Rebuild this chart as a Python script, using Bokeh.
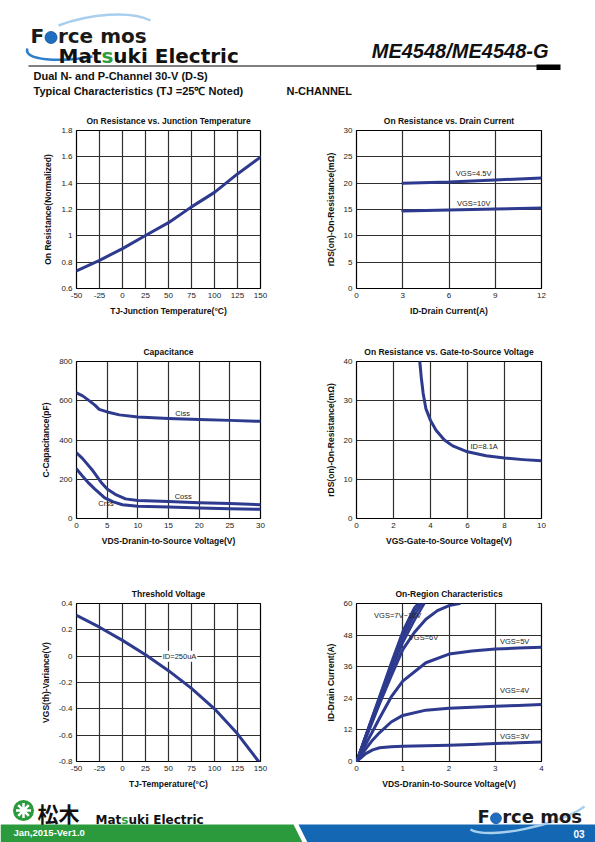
from bokeh.plotting import figure
from bokeh.models import Range1d, FixedTicker, CustomJSTickFormatter, ColumnDataSource
from bokeh.layouts import column, row
from bokeh.core.properties import value
from bokeh.embed import file_html
from bokeh.resources import INLINE

FONT = "Liberation Sans"
LOGO = "DejaVu Sans"
LINE = "#2e3a8e"
GRID = "#2f2f2f"

# ---------------- data ----------------
# 1 On Resistance vs. Junction Temperature
tj_ron = [-50, -25, 0, 25, 50, 75, 100, 125, 150]
ron_norm = [0.734, 0.814, 0.903, 1.003, 1.10, 1.22, 1.33, 1.47, 1.598]

# 2 On Resistance vs. Drain Current
id_drain = [3, 6, 9, 12]
rds_vgs45 = [20.0, 20.2, 20.6, 21.0]
rds_vgs10 = [14.7, 14.9, 15.1, 15.3]
labels2 = ["VGS=4.5V", "VGS=10V"]
labels2_x = [7.6, 7.6]
labels2_y = [21.9, 16.2]

# 3 Capacitance
vds_ciss = [0, 1, 2, 3, 3.7, 5, 7, 10, 15, 20, 25, 30]
ciss = [640, 625, 602, 578, 556, 543, 528, 517, 510, 505, 500, 495]
vds_coss = [0, 1, 2.5, 4, 5, 6.5, 8, 10, 15, 20, 25, 30]
coss = [335, 305, 250, 185, 150, 120, 100, 92, 86, 80, 76, 70]
vds_crss = [0, 1, 2, 3, 4.6, 6, 7.5, 10, 15, 20, 25, 30]
crss = [252, 215, 180, 150, 105, 85, 70, 63, 58, 54, 50, 47]
labels3 = ["Ciss", "Coss", "Crss"]
labels3_x = [17.3, 17.4, 4.8]
labels3_y = [535, 114, 75]

# 4 On Resistance vs. Gate-to-Source Voltage
vgs = [3.42, 3.5, 3.6, 3.75, 4.0, 4.3, 4.75, 5.2, 6.0, 7.0, 8.0, 9.0, 10.0]
rds_vgs = [40, 36, 32, 28, 25, 22.5, 20, 18.5, 17, 16, 15.4, 15.0, 14.7]
labels4 = ["ID=8.1A"]
labels4_x = [6.9]
labels4_y = [18.3]

# 5 Threshold Voltage
tj_vth = [-50, -25, 0, 25, 50, 75, 100, 125, 148]
vth_var = [0.31, 0.22, 0.12, 0.01, -0.11, -0.245, -0.40, -0.59, -0.80]
labels5 = ["ID=250uA"]
labels5_x = [62]
labels5_y = [0]

# 6 On-Region Characteristics
vds_on = [0, 0.1, 0.2, 0.35, 0.5, 0.75, 1.0, 1.5, 2.0, 2.5, 3.0, 3.5, 4.0]
id_3v = [0, 1.5, 3.0, 4.4, 5.2, 5.6, 5.8, 6.0, 6.2, 6.5, 6.8, 7.1, 7.4]
id_4v = [0, 2.4, 4.8, 8.2, 11.0, 15.0, 17.5, 19.5, 20.2, 20.6, 21.0, 21.3, 21.6]
id_5v = [0, 3.3, 6.6, 11.5, 16.5, 24.5, 30.5, 37.5, 40.8, 42.0, 42.7, 43.1, 43.4]
vds_6v = [0, 0.25, 0.5, 0.75, 1.0, 1.25, 1.5, 1.75, 2.0, 2.23]
id_6v = [0, 11, 22, 32.5, 42.5, 49, 54, 57.3, 59.2, 60]
vds_7v = [0, 0.25, 0.5, 0.75, 1.0, 1.25, 1.47]
id_7v = [0, 12.0, 23.5, 34.5, 45.0, 53.5, 60]
vds_8v = [0, 0.25, 0.5, 0.75, 1.0, 1.25, 1.42]
id_8v = [0, 12.2, 24.0, 35.5, 46.5, 55.5, 60]
vds_9v = [0, 0.25, 0.5, 0.75, 1.0, 1.25, 1.37]
id_9v = [0, 12.4, 24.5, 36.5, 48.0, 57.0, 60]
vds_10v = [0, 0.25, 0.5, 0.75, 1.0, 1.25, 1.33]
id_10v = [0, 12.6, 25.0, 37.5, 49.5, 58.5, 60]
labels6 = ["VGS=7V~10V", "VGS=6V", "VGS=5V", "VGS=4V", "VGS=3V"]
labels6_x = [0.89, 1.45, 3.42, 3.42, 3.42]
labels6_y = [55.6, 47.0, 45.6, 26.8, 9.6]

# ticks
ticks_temp = [-50, -25, 0, 25, 50, 75, 100, 125, 150]
ticks_ron = [0.6, 0.8, 1.0, 1.2, 1.4, 1.6, 1.8]
ticks_id = [0, 3, 6, 9, 12]
ticks_rds30 = [0, 5, 10, 15, 20, 25, 30]
ticks_vds30 = [0, 5, 10, 15, 20, 25, 30]
ticks_cap = [0, 200, 400, 600, 800]
ticks_vgs = [0, 2, 4, 6, 8, 10]
ticks_rds40 = [0, 10, 20, 30, 40]
ticks_vth = [-0.8, -0.6, -0.4, -0.2, 0, 0.2, 0.4]
ticks_vds4 = [0, 1, 2, 3, 4]
ticks_id60 = [0, 12, 24, 36, 48, 60]

FMT = "return tick.toString()"


def chart(title, xr, yr, xt, yt, xl, yl, left, right, top, bottom, fw, fh):
    p = figure(frame_width=fw, frame_height=fh,
               x_range=Range1d(*xr), y_range=Range1d(*yr),
               min_border_left=left, min_border_right=right,
               min_border_top=top, min_border_bottom=bottom,
               output_backend="svg", toolbar_location=None, title=title)
    p.title.align = "center"
    p.title.text_font = FONT
    p.title.text_font_size = "8.5px"
    p.title.text_font_style = "bold"
    p.title.text_color = "#111111"
    p.title.standoff = 9
    p.outline_line_color = "black"
    p.outline_line_width = 1.2
    p.outline_line_alpha = 1
    p.xaxis.ticker = FixedTicker(ticks=xt)
    p.yaxis.ticker = FixedTicker(ticks=yt)
    p.xaxis.formatter = CustomJSTickFormatter(code=FMT)
    p.yaxis.formatter = CustomJSTickFormatter(code=FMT)
    p.xaxis.axis_label = xl
    p.yaxis.axis_label = yl
    p.axis.axis_line_color = None
    p.axis.major_tick_line_color = None
    p.axis.minor_tick_line_color = None
    p.axis.major_tick_out = 0
    p.axis.major_tick_in = 0
    p.axis.major_label_text_font = FONT
    p.axis.major_label_text_font_size = "8px"
    p.axis.major_label_text_color = "#222222"
    p.axis.major_label_standoff = 4
    p.axis.axis_label_text_font = FONT
    p.axis.axis_label_text_font_size = "8.5px"
    p.axis.axis_label_text_font_style = "bold"
    p.axis.axis_label_text_color = "#111111"
    p.axis.axis_label_standoff = 5
    p.grid.grid_line_color = GRID
    p.grid.grid_line_width = 1.2
    p.background_fill_color = "white"
    p.border_fill_color = "white"
    return p


def curve(p, x, y, w=3):
    p.line(x, y, line_color=LINE, line_width=w, line_cap="round", line_join="round")


def labels(p, xs, ys, txt, bg=None):
    src = ColumnDataSource(dict(x=xs, y=ys, t=txt))
    kw = {}
    if bg:
        kw = dict(background_fill_color=bg, padding=1)
    p.text("x", "y", "t", source=src, text_font=value(FONT), text_font_size="7.5px",
           text_color="#222222", text_align="center", text_baseline="middle", **kw)


# geometry (px) -- layout starts at the page's top-left corner
LW, RW = 184, 185
L_LEFT, L_RIGHT = 76, 30
R_LEFT, R_RIGHT = 66, 54

# Row 1
p1 = chart("On Resistance vs. Junction Temperature", (-50, 150), (0.6, 1.8), ticks_temp, ticks_ron,
           "TJ-Junction Temperature(°C)", "On Resistance(Normalized)",
           L_LEFT, L_RIGHT, 25, 52, LW, 158)
curve(p1, tj_ron, ron_norm)

p2 = chart("On Resistance vs. Drain Current", (0, 12), (0, 30), ticks_id, ticks_rds30,
           "ID-Drain Current(A)", "rDS(on)-On-Resistance(mΩ)",
           R_LEFT, R_RIGHT, 25, 52, RW, 158)
curve(p2, id_drain, rds_vgs45)
curve(p2, id_drain, rds_vgs10)
labels(p2, labels2_x, labels2_y, labels2)

# Row 2
p3 = chart("Capacitance", (0, 30), (0, 800), ticks_vds30, ticks_cap,
           "VDS-Dranin-to-Source Voltage(V)", "C-Capacitance(pF)",
           L_LEFT, L_RIGHT, 21, 62, LW, 157)
curve(p3, vds_ciss, ciss)
curve(p3, vds_coss, coss)
curve(p3, vds_crss, crss)
labels(p3, labels3_x, labels3_y, labels3)

p4 = chart("On Resistance vs. Gate-to-Source Voltage", (0, 10), (0, 40), ticks_vgs, ticks_rds40,
           "VGS-Gate-to-Source Voltage(V)", "rDS(on)-On-Resistance(mΩ)",
           R_LEFT, R_RIGHT, 21, 62, RW, 157)
curve(p4, vgs, rds_vgs)
labels(p4, labels4_x, labels4_y, labels4)

# Row 3
p5 = chart("Threshold Voltage", (-50, 150), (-0.8, 0.4), ticks_temp, ticks_vth,
           "TJ-Temperature(°C)", "VGS(th)-Variance(V)",
           L_LEFT, L_RIGHT, 23, 33, LW, 158)
curve(p5, tj_vth, vth_var)
labels(p5, labels5_x, labels5_y, labels5, bg="white")

p6 = chart("On-Region Characteristics", (0, 4), (0, 60), ticks_vds4, ticks_id60,
           "VDS-Dranin-to-Source Voltage(V)", "ID-Drain Current(A)",
           R_LEFT, R_RIGHT, 23, 33, RW, 158)
curve(p6, vds_on, id_3v)
curve(p6, vds_on, id_4v)
curve(p6, vds_on, id_5v)
curve(p6, vds_6v, id_6v)
curve(p6, vds_7v, id_7v, 2.4)
curve(p6, vds_8v, id_8v, 2.4)
curve(p6, vds_9v, id_9v, 2.4)
curve(p6, vds_10v, id_10v, 2.4)
labels(p6, labels6_x, labels6_y, labels6)


def canvas(y0, y1):
    p = figure(width=595, height=y1 - y0, x_range=Range1d(0, 595), y_range=Range1d(y1, y0),
               min_border=0, output_backend="svg", toolbar_location=None)
    p.axis.visible = False
    p.grid.visible = False
    p.outline_line_color = None
    p.background_fill_color = "white"
    p.border_fill_color = "white"
    return p


def txt(p, x, y, s, size, color="#111111", font=FONT, style="bold", align="left"):
    # y is the vertical centre of the text line
    p.text(x=[x], y=[y], text=[s], text_font=value(font), text_font_size=f"{size}px",
           text_font_style=style, text_color=color, text_align=align, text_baseline="middle")


def logo(p, x, yc, size):
    f_w = 0.683 * size
    o_w = 0.687 * size
    txt(p, x, yc, "F", size, color="#1a1a1a", font=LOGO)
    p.circle(x=[x + f_w + o_w / 2], y=[yc + 0.1 * size], radius=[0.3 * size],
             fill_color="#1f6fc0", line_color="#0d4f99", line_width=0.8)
    txt(p, x + f_w + o_w, yc, "rce mos", size, color="#1a1a1a", font=LOGO)


# Header
hdr = canvas(0, 105)
hdr.bezier(x0=[27], y0=[48], x1=[92], y1=[56], cx0=[22], cy0=[60], cx1=[60], cy1=[62],
           line_color="#2f7fc8", line_width=2.5)
hdr.bezier(x0=[58], y0=[25], x1=[150], y1=[20], cx0=[90], cy0=[13], cx1=[130], cy1=[10],
           line_color="#a9cfee", line_width=2.5)
logo(hdr, 30, 35, 20)
mat_w = (0.995 + 0.675 + 0.478) * 20
s_w = 0.595 * 20
txt(hdr, 58, 55, "Mat", 20, font=LOGO)
txt(hdr, 58 + mat_w, 55, "s", 20, color="#2e9e3e", font=LOGO)
txt(hdr, 58 + mat_w + s_w, 55, "uki Electric", 20, font=LOGO)
txt(hdr, 548, 50, "ME4548/ME4548-G", 20, style="bold italic", align="right")
hdr.segment(x0=[28], y0=[65.5], x1=[548], y1=[65.5], line_color="black", line_width=1)
hdr.quad(left=[536], right=[560], top=[64], bottom=[69.5], fill_color="black", line_color=None)
txt(hdr, 33, 75, "Dual N- and P-Channel 30-V (D-S)", 11)
txt(hdr, 33, 90, "Typical Characteristics (TJ =25℃ Noted)", 11)
txt(hdr, 286, 90, "N-CHANNEL", 11)

# Footer
ftr = canvas(794, 842)
ftr.patch(x=[0, 293, 302, 0], y=[824, 824, 842, 842], fill_color="#2a9a3c", line_color=None)
ftr.patch(x=[298, 595, 595, 307], y=[824, 824, 842, 842], fill_color="#1467b3", line_color=None)
ftr.bezier(x0=[470], y0=[829], x1=[584], y1=[806], cx0=[488], cy0=[840], cx1=[560], cy1=[824],
           line_color="#a9cfee", line_width=2.5)
txt(ftr, 13, 832, "Jan,2015-Ver1.0", 9.5, color="white")
txt(ftr, 584, 833, "03", 10, color="white", align="right")
ftr.circle(x=[23], y=[810], radius=[10.5], fill_color="#2a9a3c", line_color=None)
ftr.scatter(x=[23], y=[810], marker="asterisk", size=15, line_color="white", line_width=2.5)
txt(ftr, 37, 812, "松木", 21, font="Noto Sans CJK JP")
mat_w2 = (0.995 + 0.675 + 0.478) * 12
s_w2 = 0.595 * 12
txt(ftr, 95, 819, "Mat", 12, font=LOGO)
txt(ftr, 95 + mat_w2, 819, "s", 12, color="#2e9e3e", font=LOGO)
txt(ftr, 95 + mat_w2 + s_w2, 819, "uki Electric", 12, font=LOGO)
logo(ftr, 477, 816, 18)

layout = column(hdr, row(p1, p2), row(p3, p4), row(p5, p6), ftr)

open("out.html", "w").write(file_html(layout, INLINE))
